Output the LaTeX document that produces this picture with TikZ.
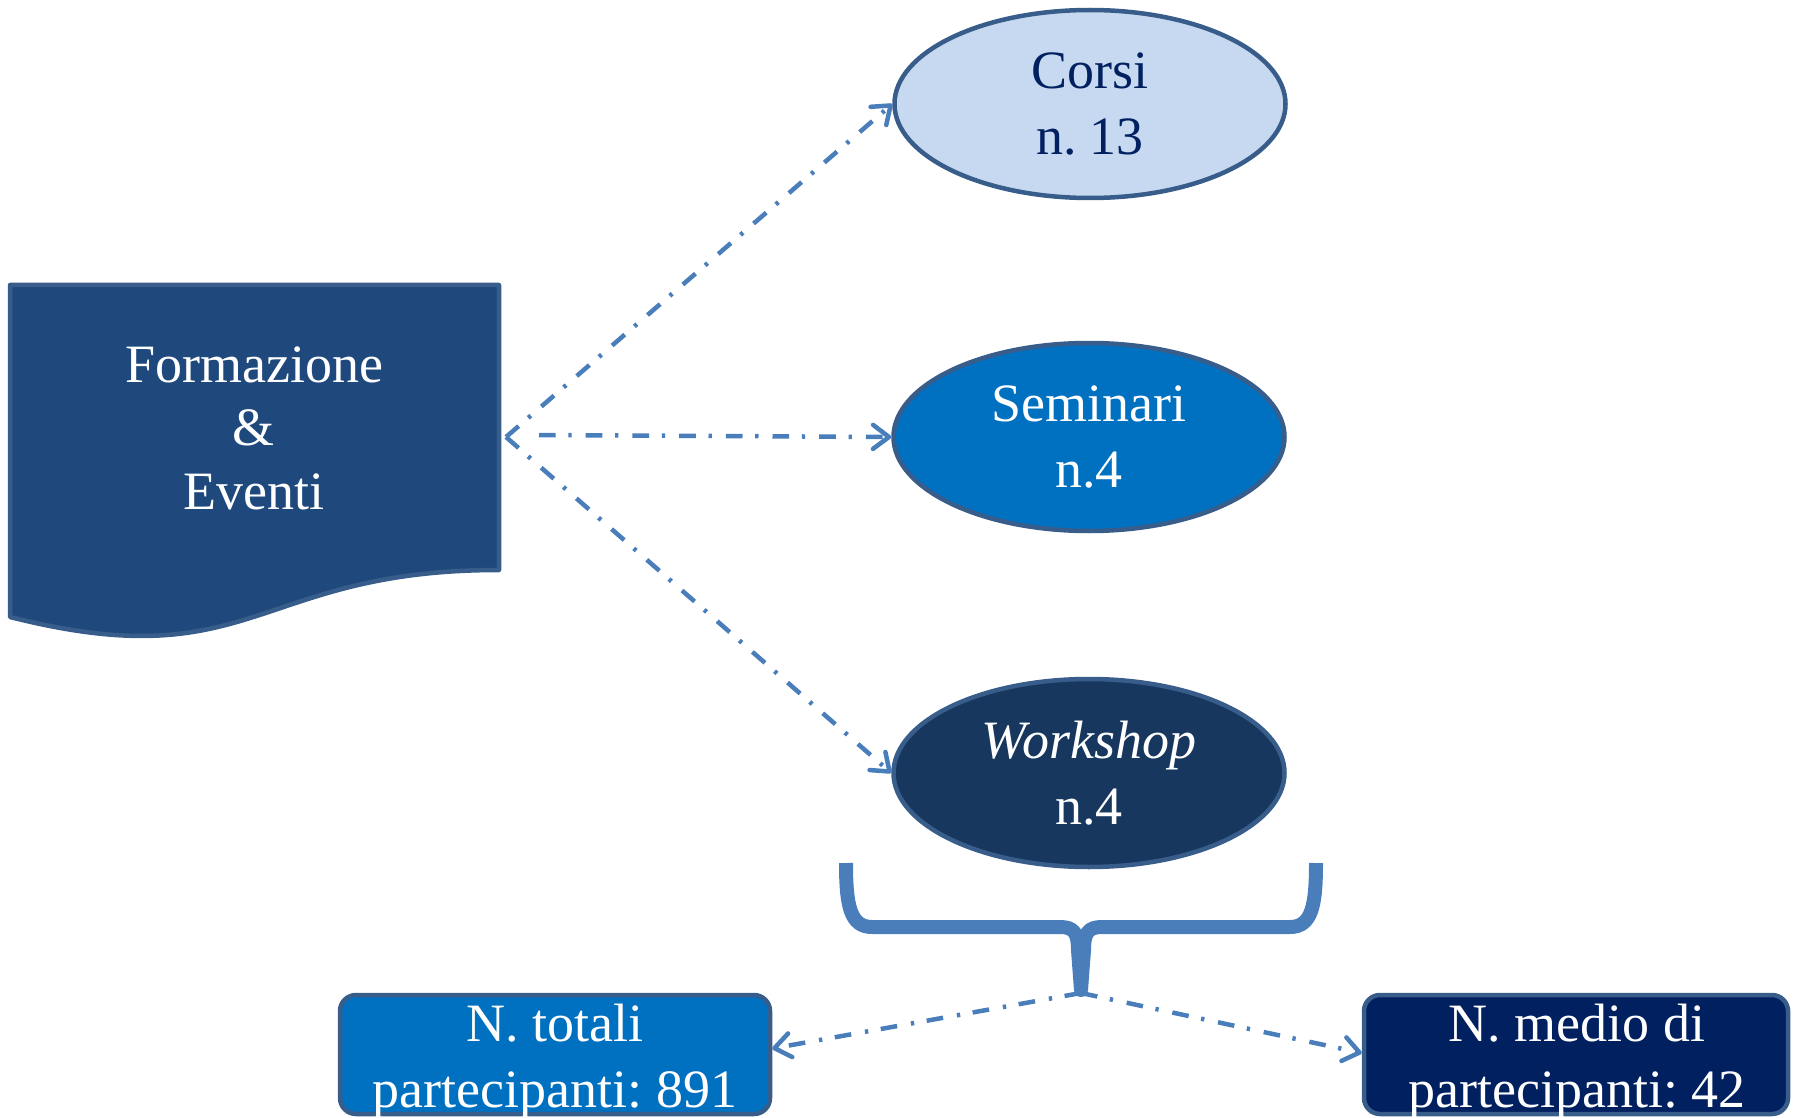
\documentclass[tikz,border=0pt]{standalone}
\usepackage{fontspec}
\setmainfont{Liberation Serif}
\frenchspacing
\usetikzlibrary{arrows.meta,shapes.geometric}
\definecolor{connblue}{HTML}{4A7EBB}
\definecolor{outl}{HTML}{385D8A}
\definecolor{docfill}{HTML}{1F497D}
\definecolor{lightfill}{HTML}{C6D9F1}
\definecolor{midfill}{HTML}{0070C0}
\definecolor{darkfill}{HTML}{17375E}
\definecolor{navyfill}{HTML}{002060}
\definecolor{navytext}{HTML}{002060}
\begin{document}
\frenchspacing
\begin{tikzpicture}[x=1pt,y=-1pt,
  conn/.style={draw=connblue, line width=4.5pt,
    dash pattern=on 16.7pt off 12.7pt on 3.3pt off 14pt,
    -{Straight Barb[round,length=16pt,width=24pt]}},
  oval/.style={ellipse, draw=outl, line width=4.5pt, minimum width=391pt,
    minimum height=188pt, align=center,
    font=\fontsize{54}{66}\selectfont, inner sep=0pt},
  infobox/.style={draw=outl, line width=4.5pt, rounded corners=16pt,
    minimum width=430pt, minimum height=119pt, inner sep=0pt},
  bigtxt/.style={text=white, align=center,
    font=\fontsize{54}{66}\selectfont, inner sep=0pt},
  bracestroke/.style={draw=connblue, line width=14pt, line join=round}]

\useasboundingbox (0,0) rectangle (1800,1118);
\clip (0,0) rectangle (1800,1118);

% Document shape
\coordinate (dTL) at (10,285);
\coordinate (dTR) at (499,285);
\coordinate (dBR) at (499,570);
\coordinate (dBL) at (10,617);
\draw[outl, line width=4.5pt, line join=round, fill=docfill]
  (dTL) -- (dTR) -- (dBR) .. controls (254.5,570) and (254.5,678.7) .. (dBL) -- cycle;
\node[bigtxt, font=\fontsize{54}{63.5}\selectfont] (doc) at (254,428) {Formazione\\\&\\Eventi};

% Ellipses
\node[oval, fill=lightfill, text=navytext] (corsi) at (1090,104) {Corsi\\n. 13};
\node[oval, fill=midfill, text=white] (sem) at (1089,437) {Seminari\\n.4};
\node[oval, fill=darkfill, text=white] (work) at (1089,773) {\textit{Workshop}\\n.4};

% Connectors from the document
\coordinate (P) at (506,437);
\coordinate (semStart) at (539,435);
\draw[conn] (P) -- (corsi.west);
\draw[conn] (semStart) -- (sem.west);
\draw[conn] (P) -- (work.west);

% Brace
\draw[bracestroke] (846,863) .. controls (846,905) and (850,927) .. (872,927)
  -- (1060,927) .. controls (1074,927) and (1078,933) .. (1078,950) -- (1081,990);
\draw[bracestroke] (1316,863) .. controls (1316,905) and (1312,927) .. (1290,927)
  -- (1102,927) .. controls (1088,927) and (1084,933) .. (1084,950) -- (1081,990);
\fill[connblue] (1081,990) circle (7pt);
\coordinate (tip) at (1081,993);

% Bottom boxes
\node[infobox, fill=midfill] (ntot) at (555,1054.5) {};
\node[infobox, fill=navyfill, minimum width=424pt] (nmed) at (1576,1054.5) {};
\node[bigtxt] (ntotT) at (555,1062) {N. totali\\partecipanti: 891};
\node[bigtxt] (nmedT) at (1577,1062) {N. medio di\\partecipanti: 42};

\draw[conn] (tip) -- ([yshift=6pt]ntot.east);
\draw[conn] (tip) -- ([yshift=1.5pt]nmed.west);
\end{tikzpicture}
\end{document}
